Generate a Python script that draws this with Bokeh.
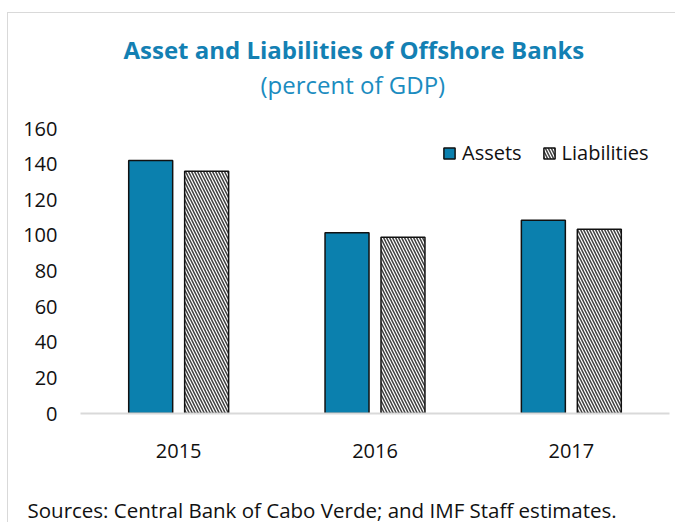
from bokeh.plotting import figure
from bokeh.models import Title, Legend, LegendItem, FixedTicker, FactorRange, Range1d
from bokeh.transform import dodge
from bokeh.embed import file_html
from bokeh.resources import INLINE

years = ["2015", "2016", "2017"]
assets = [142, 101.5, 108.5]
liabilities = [136, 99, 103.5]
yticks = [0, 20, 40, 60, 80, 100, 120, 140, 160]

W, H = 668, 510
FONT = "Open Sans"

p = figure(x_range=FactorRange(*years, range_padding=0), y_range=Range1d(0, 160),
           width=W, height=H, output_backend="svg", toolbar_location=None,
           min_border_left=72, min_border_right=7, min_border_top=115, min_border_bottom=109)
p.styles = {"border-top": "1px solid #d9d9d9", "border-left": "1px solid #d9d9d9",
            "margin-top": "12px", "margin-left": "7px"}

src = dict(x=years, a=assets, l=liabilities)
ra = p.vbar(x=dodge("x", -0.1425, range=p.x_range), top="a", width=0.224, source=src,
            fill_color="#0B80AE", line_color="#111111", line_width=1.5)
rl = p.vbar(x=dodge("x", 0.1425, range=p.x_range), top="l", width=0.224, source=src,
            fill_color="white", line_color="#111111", line_width=1.5,
            hatch_pattern="left_diagonal_line", hatch_color="#404040", hatch_scale=6, hatch_weight=1.5)

legend = Legend(items=[LegendItem(label="Assets", renderers=[ra]),
                       LegendItem(label="Liabilities", renderers=[rl])],
                orientation="horizontal", location=(362, 247),
                border_line_color=None, background_fill_alpha=0,
                glyph_width=14, glyph_height=14, label_standoff=6, spacing=20,
                label_text_font=FONT, label_text_font_size="20px", label_text_color="#111111",
                margin=0, padding=0)
p.add_layout(legend)

p.grid.visible = False
p.outline_line_color = None
p.background_fill_color = "white"

p.yaxis.ticker = FixedTicker(ticks=yticks)
p.yaxis.axis_line_color = None
p.yaxis.major_tick_line_color = None
p.yaxis.minor_tick_line_color = None
p.yaxis.major_label_standoff = 17
p.yaxis.major_label_text_font = FONT
p.yaxis.major_label_text_font_size = "20px"
p.yaxis.major_label_text_color = "#111111"

p.xaxis.axis_line_color = "#d9d9d9"
p.xaxis.axis_line_width = 2
p.xaxis.major_tick_line_color = None
p.xaxis.minor_tick_line_color = None
p.xaxis.major_label_standoff = 24
p.xaxis.major_label_text_font = FONT
p.xaxis.major_label_text_font_size = "20px"
p.xaxis.major_label_text_color = "#111111"

# main title (outermost)
p.title.text = "Asset and Liabilities of Offshore Banks"
p.title.align = "left"
p.title.offset = 43
p.title.text_font = FONT
p.title.text_font_style = "bold"
p.title.text_font_size = "24px"
p.title.text_color = "#1380B3"
p.title.standoff = 0

# spacer closest to the frame, then the subtitle
p.add_layout(Title(text=" ", text_font_size="1px", standoff=25), "above")
p.add_layout(Title(text="(percent of GDP)", align="left", offset=180,
                   text_font=FONT, text_font_style="normal", text_font_size="24px",
                   text_color="#1B8CC0", standoff=0), "above")

# spacer below the x axis, then the source note
p.add_layout(Title(text=" ", text_font_size="1px", standoff=30), "below")
p.add_layout(Title(text="Sources: Central Bank of Cabo Verde; and IMF Staff estimates.",
                   align="left", offset=-53, text_font=FONT, text_font_style="normal",
                   text_font_size="20.5px", text_color="#111111", standoff=0), "below")

open("out.html", "w").write(file_html(p, INLINE))
